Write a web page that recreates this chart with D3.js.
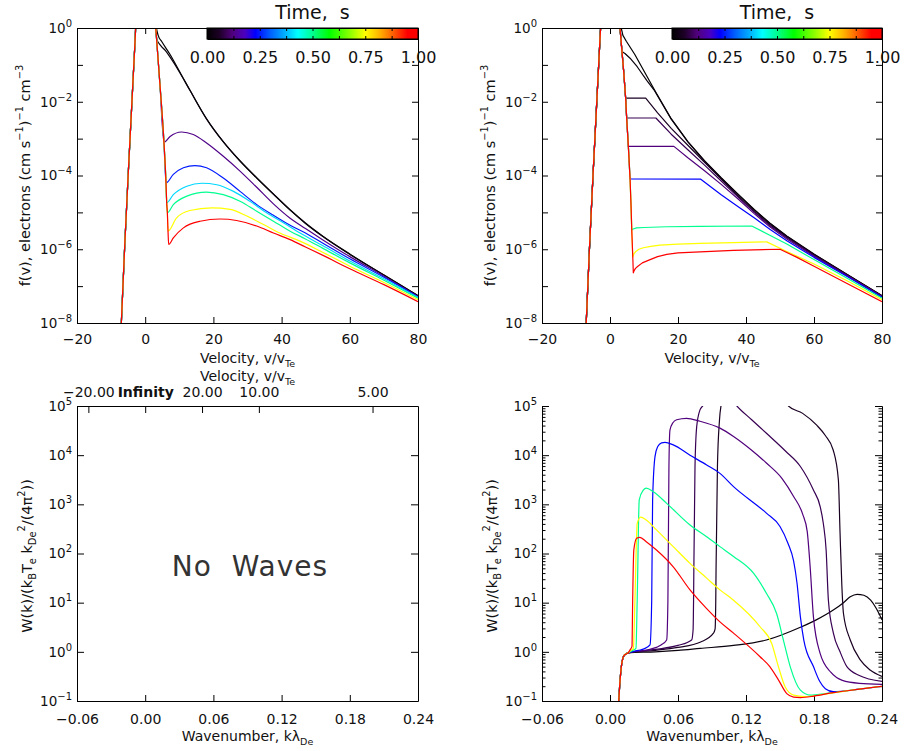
<!DOCTYPE html>
<html>
<head>
<meta charset="utf-8">
<script src="https://d3js.org/d3.v7.min.js"></script>
<style>
  body { margin: 0; background: #fff; }
  svg { display: block; }
</style>
</head>
<body>
<svg></svg>
<script>
// ---- colour table (Time, s) ----
var cmapStops  = [0, 0.06, 0.12, 0.18, 0.23, 0.30, 0.37, 0.43, 0.50, 0.58, 0.68, 0.75, 0.82, 0.88, 0.95, 1];
var cmapColors = ["#000000","#1e0028","#50007c","#4a00c0","#0000ff","#0060ff","#00b0ff","#00ffff",
                  "#00ff90","#00ff00","#90ff00","#ffff00","#ffb000","#ff6000","#ff0000","#ff0000"];

// snapshot times of each curve
var leftTimes  = [0, 0.02, 0.13, 0.25, 0.40, 0.50, 0.75, 1.00];
var rightTimes = [0, 0.02, 0.05, 0.09, 0.12, 0.23, 0.50, 0.75, 1.00];
var waveTimes  = [0.02, 0.05, 0.09, 0.12, 0.23, 0.50, 0.75, 1.00];

// tick values
var vTicks = [-20, 0, 20, 40, 60, 80];
var kTicks = [-0.06, 0.00, 0.06, 0.12, 0.18, 0.24];
var fDecades = [1e-8, 1e-7, 1e-6, 1e-5, 1e-4, 1e-3, 1e-2, 1e-1, 1];
var wDecades = [1e-1, 1, 1e1, 1e2, 1e3, 1e4, 1e5];
var velTicks = [-20, Infinity, 20, 10, 5];
var cbTicks = [0, 0.125, 0.25, 0.375, 0.5, 0.625, 0.75, 0.875, 1];

// ---- f(v) data, [v/vTe, log10 f] ----
var coreRise = [[-7.6,-9.2],[-7.0,-8.0],[-6.0,-5.9],[-5.0,-4.0],[-4.0,-2.2],[-3.0,-0.4],[-2.3,0.8],[2.5,0.8]];
var fallLeft = [[3.1,0.0],[4.3,-1.5],[5.5,-3.1],[6.1,-4.2],[6.3,-4.74],[6.5,-5.01],[6.69,-5.51],[6.89,-5.87]];
var fallRight = [[2.94,0.0],[4.0,-1.15],[4.6,-1.9],[4.9,-2.44],[5.4,-3.21],[5.9,-4.09],[6.2,-4.85],[6.4,-5.48],[6.7,-6.21],[6.86,-6.64]];

var fL0 = [[3.3,0],[3.8,-0.2],[4.8,-0.36],[7.3,-0.72],[10.2,-1.2],[13.1,-1.68],[18.0,-2.46],[22.9,-3.08],[27.8,-3.6],[32.7,-4.06],[37.6,-4.5],[42.5,-4.93],[47,-5.29],[52,-5.64],[60,-6.13],[70,-6.7],[80,-7.26]];
var fL1 = [[3.4,-0.3],[4.5,-0.47],[6.0,-0.62],[7.3,-0.79],[8.5,-0.96],[10.2,-1.22],[13.1,-1.69],[18.0,-2.47],[22.9,-3.09],[27.8,-3.61],[32.7,-4.07],[37.6,-4.51],[42.5,-4.94],[47,-5.3],[52,-5.65],[60,-6.14],[70,-6.7],[80,-7.26]];
var fL2 = [[5.5,-3.1],[7.3,-2.94],[10.7,-2.82],[14.1,-2.89],[18.0,-3.12],[22.9,-3.48],[27.8,-3.88],[32.7,-4.32],[37.6,-4.77],[42.5,-5.16],[47,-5.44],[52,-5.74],[60,-6.2],[70,-6.73],[80,-7.28]];
var fL3 = [[6.1,-4.2],[8.25,-3.97],[11.2,-3.79],[14.6,-3.73],[18.0,-3.79],[22.9,-4.07],[27.8,-4.43],[32.7,-4.79],[37.6,-5.08],[42.5,-5.35],[47,-5.56],[52,-5.83],[60,-6.26],[70,-6.76],[80,-7.29]];
var fL4 = [[6.3,-4.74],[8.25,-4.52],[12.2,-4.29],[16.6,-4.21],[21.0,-4.25],[25.9,-4.43],[30.7,-4.70],[35.6,-5.01],[40.5,-5.28],[45.4,-5.56],[52,-5.9],[60,-6.32],[70,-6.8],[80,-7.31]];
var fL5 = [[6.5,-5.01],[8.25,-4.79],[12.2,-4.56],[18.0,-4.45],[22.9,-4.52],[27.8,-4.70],[32.7,-4.97],[37.6,-5.24],[42.5,-5.51],[47,-5.72],[52,-5.97],[60,-6.37],[70,-6.84],[80,-7.33]];
var fL6 = [[6.69,-5.51],[9.2,-5.15],[13.1,-4.95],[19.5,-4.88],[24.9,-4.92],[29.8,-5.10],[34.7,-5.33],[39.5,-5.56],[45.4,-5.78],[52,-6.08],[60,-6.46],[70,-6.9],[80,-7.37]];
var fL7 = [[6.89,-5.87],[8.25,-5.69],[11.2,-5.42],[16.1,-5.24],[21.9,-5.18],[26.8,-5.22],[32.7,-5.37],[37.6,-5.56],[42.5,-5.74],[47,-5.94],[52,-6.16],[60,-6.53],[70,-6.96],[80,-7.42]];

var fR0 = fL0;
var fR1 = [[3.5,-0.64],[4.4,-0.69],[5.9,-0.82],[8.0,-1.05],[10.8,-1.42],[13.1,-1.7],[18.0,-2.47],[22.9,-3.09],[27.8,-3.61],[32.7,-4.07],[37.6,-4.51],[42.5,-4.94],[47,-5.3],[52,-5.65],[60,-6.14],[70,-6.7],[80,-7.26]];
var fR2 = [[4.6,-1.9],[10.5,-1.9],[14,-2.3],[18,-2.72],[22.9,-3.18],[27.8,-3.64],[32.7,-4.1],[37.6,-4.55],[42.5,-4.98],[47,-5.33],[52,-5.67],[60,-6.15],[70,-6.71],[80,-7.27]];
var fR3 = [[4.9,-2.44],[13.5,-2.44],[18,-2.88],[22.9,-3.3],[27.8,-3.72],[32.7,-4.15],[37.6,-4.58],[42.5,-5.0],[47,-5.36],[52,-5.69],[60,-6.17],[70,-6.72],[80,-7.28]];
var fR4 = [[5.4,-3.21],[18.8,-3.21],[22.9,-3.52],[27.8,-3.87],[32.7,-4.24],[37.6,-4.63],[42.5,-5.04],[47,-5.39],[52,-5.72],[60,-6.19],[70,-6.73],[80,-7.28]];
var fR5 = [[5.9,-4.09],[26.7,-4.1],[32.7,-4.52],[37.6,-4.84],[42.5,-5.15],[47,-5.46],[52,-5.77],[60,-6.22],[70,-6.75],[80,-7.3]];
var fR6 = [[6.4,-5.48],[6.8,-5.45],[7.8,-5.42],[10,-5.41],[16.7,-5.39],[26.5,-5.38],[41.7,-5.37],[47,-5.62],[52,-5.86],[60,-6.28],[70,-6.8],[80,-7.33]];
var fR7 = [[6.7,-6.21],[7.0,-6.13],[7.6,-6.06],[8.5,-6.0],[9.8,-5.96],[12,-5.92],[14.7,-5.89],[20,-5.86],[26.5,-5.84],[36.3,-5.82],[46.1,-5.8],[52,-6.06],[60,-6.4],[70,-6.87],[80,-7.37]];
var fR8 = [[6.86,-6.64],[7.1,-6.58],[7.5,-6.52],[8.2,-6.46],[9.5,-6.37],[11.8,-6.28],[14,-6.2],[16.7,-6.14],[20,-6.1],[26.5,-6.07],[36.3,-6.03],[50,-6.0],[55,-6.22],[60,-6.46],[70,-6.94],[80,-7.42]];

// ---- W(k) data, [k lambda_De, log10 W] ----
var waveStart = [[0.0072,-1.2],[0.0085,-0.7],[0.0103,-0.25],[0.0125,-0.07],[0.016,-0.02]];
var w0 = [[0.04,0.0],[0.06,0.03],[0.0795,0.07],[0.109,0.13],[0.138,0.24],[0.168,0.5],[0.182,0.65],[0.197,0.85],[0.206,1.0],[0.212,1.12],[0.218,1.17],[0.224,1.15],[0.23,1.05],[0.235,0.88],[0.24,0.65]];
var w1 = [[0.04,0.03],[0.06,0.09],[0.08,0.2],[0.0913,0.38],[0.0927,0.46],[0.0933,1.0],[0.0936,1.73],[0.0948,3.77],[0.0966,4.71],[0.0986,5.1],[0.1,5.3],[0.15,5.3],[0.1575,5.0],[0.17,4.85],[0.1824,4.61],[0.19,4.4],[0.197,4.1],[0.2015,3.5],[0.203,2.41],[0.2045,1.39],[0.206,0.78],[0.212,0.24],[0.221,-0.17],[0.2295,-0.37],[0.24,-0.5]];
var w2 = [[0.04,0.05],[0.06,0.13],[0.072,0.24],[0.0733,0.44],[0.0738,1.2],[0.074,1.73],[0.075,3.77],[0.0765,4.58],[0.0794,4.92],[0.0823,5.02],[0.085,5.2],[0.105,5.2],[0.112,5.0],[0.125,4.72],[0.1383,4.44],[0.155,4.08],[0.168,3.77],[0.1795,3.29],[0.1855,2.95],[0.1883,2.6],[0.1907,2.07],[0.1927,1.05],[0.1971,0.38],[0.203,0.0],[0.209,-0.3],[0.22,-0.48],[0.24,-0.6]];
var w3 = [[0.035,0.05],[0.045,0.14],[0.05,0.24],[0.0511,1.05],[0.052,3.77],[0.0529,4.51],[0.0555,4.66],[0.0588,4.72],[0.0676,4.75],[0.0794,4.69],[0.097,4.55],[0.109,4.38],[0.125,4.1],[0.138,3.84],[0.152,3.52],[0.162,3.16],[0.17,2.8],[0.174,2.45],[0.1766,1.73],[0.1795,0.71],[0.1854,-0.03],[0.195,-0.42],[0.205,-0.58],[0.22,-0.64],[0.24,-0.66]];
var w4 = [[0.025,0.03],[0.03,0.06],[0.0353,0.14],[0.0368,1.05],[0.0376,3.09],[0.0397,3.97],[0.042,4.17],[0.0455,4.25],[0.0485,4.26],[0.0558,4.21],[0.0706,4.0],[0.0853,3.8],[0.097,3.63],[0.109,3.36],[0.138,2.82],[0.15,2.55],[0.157,2.21],[0.162,1.85],[0.165,1.4],[0.168,0.71],[0.171,0.24],[0.1795,-0.3],[0.185,-0.6],[0.19,-0.75],[0.197,-0.81],[0.22,-0.76],[0.24,-0.7]];
var w5 = [[0.02,0.03],[0.0229,0.07],[0.024,1.05],[0.0258,3.09],[0.0294,3.29],[0.032,3.33],[0.038,3.26],[0.05,3.02],[0.0706,2.58],[0.0853,2.34],[0.097,2.14],[0.109,1.94],[0.1266,1.6],[0.138,1.19],[0.147,0.78],[0.153,0.24],[0.159,-0.3],[0.168,-0.78],[0.1766,-0.88],[0.19,-0.85],[0.21,-0.79],[0.24,-0.7]];
var w6 = [[0.0185,0.03],[0.0206,0.07],[0.022,1.05],[0.024,2.61],[0.027,2.74],[0.032,2.68],[0.041,2.48],[0.0558,2.14],[0.0706,1.8],[0.0853,1.5],[0.097,1.26],[0.109,1.05],[0.1324,0.51],[0.1427,0.17],[0.1486,-0.3],[0.1545,-0.71],[0.162,-0.88],[0.172,-0.91],[0.19,-0.86],[0.21,-0.79],[0.24,-0.7]];
var w7 = [[0.018,0.05],[0.0194,0.11],[0.02,1.05],[0.021,2.07],[0.0235,2.31],[0.0264,2.33],[0.032,2.24],[0.041,2.07],[0.0558,1.73],[0.0706,1.26],[0.0853,0.88],[0.097,0.61],[0.109,0.38],[0.1324,-0.1],[0.141,-0.3],[0.1486,-0.57],[0.156,-0.85],[0.162,-0.92],[0.168,-0.93],[0.18,-0.9],[0.197,-0.83],[0.22,-0.76],[0.24,-0.7]];

// ---------------------------------------------------------------
var FONT = "'DejaVu Sans', 'Liberation Sans', Arial, sans-serif";
var svg = d3.select("svg").attr("width", 907).attr("height", 751)
    .attr("font-family", FONT);

var cmap = d3.scaleLinear().domain(cmapStops).range(cmapColors).clamp(true);

var xV1 = d3.scaleLinear().domain([-20, 80]).range([77, 418]);
var xV2 = d3.scaleLinear().domain([-20, 80]).range([542, 882]);
var yF = d3.scaleLog().domain([1e-8, 1]).range([323, 28]);
var xK1 = d3.scaleLinear().domain([-0.06, 0.24]).range([77, 418]);
var xK2 = d3.scaleLinear().domain([-0.06, 0.24]).range([542, 882]);
var yW = d3.scaleLog().domain([0.1, 1e5]).range([701, 406]);

function styleAxis(g, size) {
  g.attr("font-family", FONT).attr("font-size", size);
  g.selectAll("line,path").attr("stroke", "#000");
  g.selectAll("text").attr("fill", "#111");
  return g;
}

function logLabels(g, show) {
  g.selectAll(".tick text").each(function(d) {
    var t = d3.select(this).text(null);
    if (!show(d)) return;
    var e = Math.round(Math.log10(d));
    t.append("tspan").text("10");
    t.append("tspan").attr("dy", -6).attr("font-size", 10).text(e < 0 ? "\u2212" + (-e) : e);
  });
}

function rich(text, parts, size) {
  var shift = 0;
  parts.forEach(function(p) {
    var target = p[1] === "sup" ? -0.45 * size : (p[1] === "sub" ? 0.3 * size : 0);
    text.append("tspan").attr("dy", target - shift)
      .attr("font-size", p[1] === "n" ? size : size * 0.68).text(p[0]);
    shift = target;
  });
}

function minus(s) { return String(s).replace("-", "\u2212"); }

function clip(id, x, y) {
  svg.append("clipPath").attr("id", id).append("rect")
    .attr("x", x.range()[0]).attr("y", y.range()[1])
    .attr("width", x.range()[1] - x.range()[0])
    .attr("height", y.range()[0] - y.range()[1]);
  return svg.append("g").attr("clip-path", "url(#" + id + ")");
}

function drawCurves(g, x, y, series, times, curve) {
  var line = d3.line().x(function(d) { return x(d[0]); })
    .y(function(d) { return y(Math.pow(10, d[1])); }).curve(curve);
  series.forEach(function(s, i) {
    g.append("path").attr("d", line(s)).attr("fill", "none")
      .attr("stroke", cmap(times[i])).attr("stroke-width", 1.2)
      .attr("stroke-linejoin", "round");
  });
}

function buildF(fall, tail) {
  var head = fall.filter(function(p) { return p[1] > tail[0][1] + 1e-9 && p[0] < tail[0][0]; });
  return coreRise.concat(head, tail);
}

// ---------- f(v) panels ----------
function fPanel(x, id, series, times, curve, cbLeft) {
  var g = clip(id, x, yF);
  drawCurves(g, x, yF, series, times, curve);

  styleAxis(svg.append("g").attr("transform", "translate(0,323)")
    .call(d3.axisBottom(x).tickValues(vTicks).tickSize(-6).tickSizeOuter(0).tickPadding(11.5)
      .tickFormat(function(d) { return minus(d); })), 14);
  styleAxis(svg.append("g").attr("transform", "translate(0,28)")
    .call(d3.axisTop(x).tickValues(vTicks).tickSize(-6).tickSizeOuter(0).tickFormat("")), 14);
  var gl = styleAxis(svg.append("g").attr("transform", "translate(" + x.range()[0] + ",0)")
    .call(d3.axisLeft(yF).tickValues(fDecades).tickSize(-6).tickSizeOuter(0).tickPadding(5)), 13.5);
  logLabels(gl, function(d) { return Math.round(Math.log10(d)) % 2 === 0; });
  styleAxis(svg.append("g").attr("transform", "translate(" + x.range()[1] + ",0)")
    .call(d3.axisRight(yF).tickValues(fDecades).tickSize(-6).tickSizeOuter(0).tickFormat("")), 13.5);

  var xl = svg.append("text").attr("x", (x.range()[0] + x.range()[1]) / 2).attr("y", 363)
    .attr("text-anchor", "middle").attr("font-size", 14).attr("fill", "#111");
  rich(xl, [["Velocity, v/v", "n"], ["Te", "sub"]], 14);

  var yl = svg.append("text")
    .attr("transform", "translate(" + (x.range()[0] - 47) + ",175.5) rotate(-90)")
    .attr("text-anchor", "middle").attr("font-size", 14.5).attr("fill", "#111");
  rich(yl, [["f(v), electrons (cm s", "n"], ["\u22121", "sup"], [")", "n"], ["\u22121", "sup"], [" cm", "n"], ["\u22123", "sup"]], 14.5);

  // colour bar
  var cb = d3.scaleLinear().domain([0, 1]).range([cbLeft, x.range()[1]]);
  var grad = svg.append("defs").append("linearGradient").attr("id", "grad" + id);
  cmapStops.forEach(function(s, i) {
    grad.append("stop").attr("offset", s).attr("stop-color", cmapColors[i]);
  });
  svg.append("rect").attr("x", cb(0)).attr("y", 28).attr("width", cb(1) - cb(0)).attr("height", 11)
    .attr("fill", "url(#grad" + id + ")").attr("stroke", "#000").attr("stroke-width", 1);
  styleAxis(svg.append("g").attr("transform", "translate(0,39)")
    .call(d3.axisBottom(cb).tickValues(cbTicks).tickSize(-3).tickSizeOuter(0).tickPadding(13)
      .tickFormat(function(d) { return Math.abs(d * 4 - Math.round(d * 4)) < 1e-9 ? d.toFixed(2) : ""; })), 16);
  styleAxis(svg.append("g").attr("transform", "translate(0,28)")
    .call(d3.axisTop(cb).tickValues(cbTicks).tickSize(-3).tickSizeOuter(0).tickFormat("")), 16);
  svg.append("text").attr("x", (cb(0) + cb(1)) / 2).attr("y", 19).attr("text-anchor", "middle")
    .attr("font-size", 19).attr("fill", "#111").style("white-space", "pre").text("Time,  s");
}

fPanel(xV1, "tl", [fL0, fL1, fL2, fL3, fL4, fL5, fL6, fL7].map(function(t) {
  return buildF(fallLeft, t); }), leftTimes, d3.curveMonotoneX, 207);
fPanel(xV2, "tr", [fR0, fR1, fR2, fR3, fR4, fR5, fR6, fR7, fR8].map(function(t) {
  return buildF(fallRight, t); }), rightTimes, d3.curveLinear, 672);

// ---------- W(k) panels ----------
var minorW = [];
wDecades.slice(0, -1).forEach(function(d) {
  for (var m = 2; m <= 9; m++) minorW.push(d * m);
});

function wPanel(x, minors) {
  styleAxis(svg.append("g").attr("transform", "translate(0,701)")
    .call(d3.axisBottom(x).tickValues(kTicks).tickSize(-6).tickSizeOuter(0).tickPadding(13)
      .tickFormat(function(d) { return minus(d.toFixed(2)); })), 14);
  var gl = styleAxis(svg.append("g").attr("transform", "translate(" + x.range()[0] + ",0)")
    .call(d3.axisLeft(yW).tickValues(wDecades).tickSize(-7).tickSizeOuter(0).tickPadding(5)), 13.5);
  logLabels(gl, function() { return true; });
  styleAxis(svg.append("g").attr("transform", "translate(" + x.range()[1] + ",0)")
    .call(d3.axisRight(yW).tickValues(wDecades).tickSize(-7).tickSizeOuter(0).tickFormat("")), 13.5);
  if (minors) {
    styleAxis(svg.append("g").attr("transform", "translate(" + x.range()[0] + ",0)")
      .call(d3.axisLeft(yW).tickValues(minorW).tickSize(-3.5).tickSizeOuter(0).tickFormat("")), 13.5);
    styleAxis(svg.append("g").attr("transform", "translate(" + x.range()[1] + ",0)")
      .call(d3.axisRight(yW).tickValues(minorW).tickSize(-3.5).tickSizeOuter(0).tickFormat("")), 13.5);
  }
  var xl = svg.append("text").attr("x", (x.range()[0] + x.range()[1]) / 2).attr("y", 741)
    .attr("text-anchor", "middle").attr("font-size", 14).attr("fill", "#111");
  rich(xl, [["Wavenumber, k\u03bb", "n"], ["De", "sub"]], 14);
  var yl = svg.append("text")
    .attr("transform", "translate(" + (x.range()[0] - 45) + ",556) rotate(-90)")
    .attr("text-anchor", "middle").attr("font-size", 14.5).attr("fill", "#111");
  rich(yl, [["W(k)/(k", "n"], ["B", "sub"], ["T", "n"], ["e", "sub"], [" k", "n"], ["De", "sub"],
            ["2", "sup"], ["/(4\u03c0", "n"], ["2", "sup"], ["))", "n"]], 14.5);
}

// left: no waves, velocity axis on top
wPanel(xK1, false);
var gTop = styleAxis(svg.append("g").attr("transform", "translate(0,406)")
  .call(d3.axisTop(xK1).tickValues(velTicks.map(function(v) { return 1 / v; }))
    .tickSize(-7).tickSizeOuter(0).tickPadding(9)
    .tickFormat(function(d, i) { var v = velTicks[i]; return v === Infinity ? "Infinity" : minus(v.toFixed(2)); })), 14);
gTop.selectAll(".tick text").filter(function(d, i) { return velTicks[i] === Infinity; })
  .attr("font-weight", "bold");
var vt = svg.append("text").attr("x", 247.5).attr("y", 381).attr("text-anchor", "middle")
  .attr("font-size", 14).attr("fill", "#111");
rich(vt, [["Velocity, v/v", "n"], ["Te", "sub"]], 14);
svg.append("text").attr("x", 250).attr("y", 576).attr("text-anchor", "middle")
  .attr("font-size", 28).attr("letter-spacing", 1).attr("fill", "#333")
  .style("white-space", "pre").text("No  Waves");

// right: wave spectra
wPanel(xK2, true);
var gw = clip("br", xK2, yW);
drawCurves(gw, xK2, yW, [w0, w1, w2, w3, w4, w5, w6, w7].map(function(t) {
  return waveStart.concat(t); }), waveTimes, d3.curveMonotoneX);
</script>
</body>
</html>
